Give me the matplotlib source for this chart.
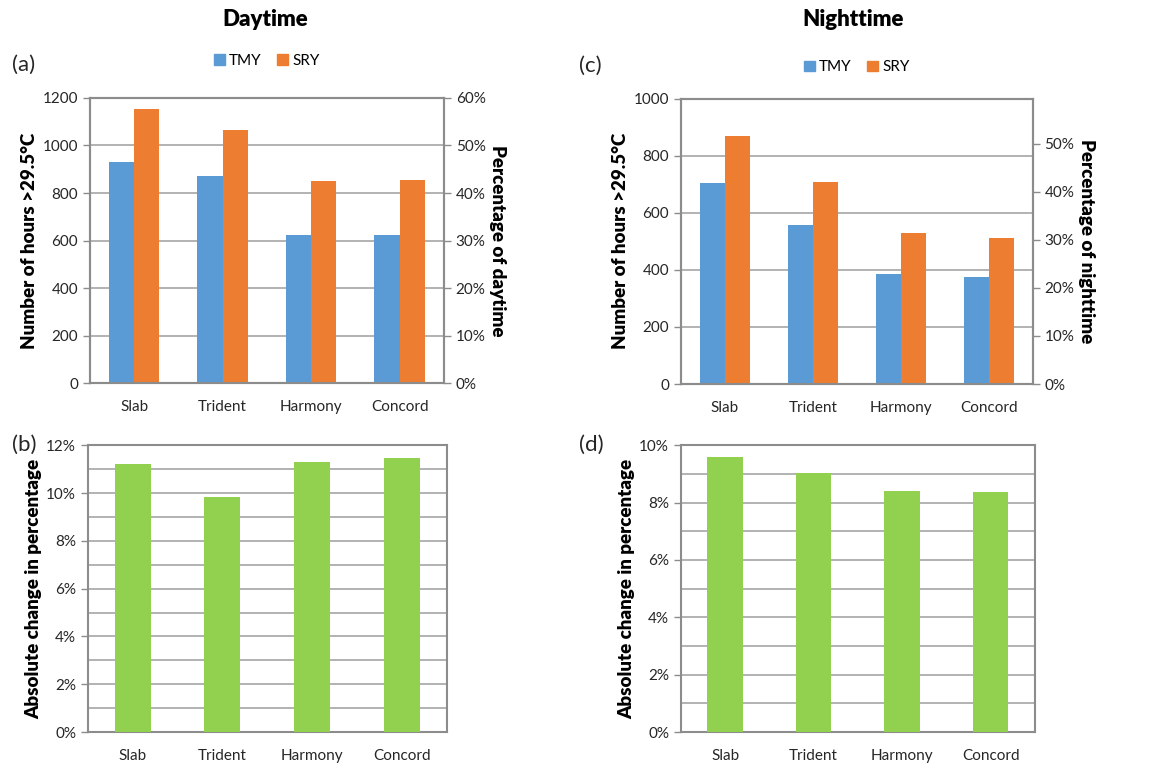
import matplotlib
matplotlib.use('Agg')
import matplotlib.pyplot as plt
from matplotlib.ticker import PercentFormatter, MultipleLocator
from matplotlib.patches import Patch
import numpy as np

plt.rcParams['font.family'] = ['Lato', 'DejaVu Sans']

buildings = ['Slab', 'Trident', 'Harmony', 'Concord']

day_tmy = [931, 870, 625, 625]
day_sry = [1155, 1064, 851, 854]
night_tmy = [706, 558, 386, 374]
night_sry = [869, 709, 529, 513]

day_change = [11.23, 9.83, 11.29, 11.47]
night_change = [9.60, 9.02, 8.41, 8.37]

BLUE = '#5B9BD5'
ORANGE = '#ED7D31'
GREEN = '#92D050'
GRID = '#A6A6A6'
FRAME = '#8C8C8C'
TXT = '#262626'


def style_frame(ax):
    for s in ax.spines.values():
        s.set_color(FRAME)
        s.set_linewidth(1.5)
    ax.tick_params(axis='x', length=0, labelsize=11, pad=12, colors=TXT)
    ax.tick_params(axis='y', length=5, color=FRAME, labelsize=11, colors=TXT, width=1)


def top_chart(rect, tmy, sry, ymax, rmax, rticks, ylabel, rlabel, leg_y):
    ax = fig.add_axes(rect)
    x = np.arange(len(buildings))
    w = 0.285
    ax.bar(x - w / 2, tmy, w, color=BLUE, zorder=3)
    ax.bar(x + w / 2, sry, w, color=ORANGE, zorder=3)
    ax.set_xlim(-0.5, len(buildings) - 0.5)
    ax.set_ylim(0, ymax)
    ax.yaxis.set_major_locator(MultipleLocator(200))
    ax.set_xticks(x)
    ax.set_xticklabels(buildings)
    ax.grid(axis='y', color=GRID, linewidth=1.2, zorder=0)
    style_frame(ax)
    ax.set_ylabel(ylabel, fontsize=13.5, fontweight='heavy', labelpad=3)
    ax2 = ax.twinx()
    ax2.set_ylim(0, rmax)
    ax2.set_yticks(rticks)
    ax2.yaxis.set_major_formatter(PercentFormatter(1.0, decimals=0))
    style_frame(ax2)
    ax2.set_ylabel(rlabel, fontsize=13.5, fontweight='heavy', rotation=270, labelpad=15)
    handles = [Patch(color=BLUE, label='TMY'), Patch(color=ORANGE, label='SRY')]
    ax.legend(handles=handles, loc='center', bbox_to_anchor=(0.5, leg_y), ncol=2,
              frameon=False, fontsize=11, handlelength=0.7, handleheight=0.7,
              handletextpad=0.3, columnspacing=1.0)
    return ax


def bottom_chart(rect, vals, ymax):
    ax = fig.add_axes(rect)
    x = np.arange(len(buildings))
    ax.bar(x, vals, 0.4, color=GREEN, zorder=3)
    ax.set_xlim(-0.5, len(buildings) - 0.5)
    ax.set_ylim(0, ymax)
    ax.yaxis.set_major_locator(MultipleLocator(2))
    ax.yaxis.set_minor_locator(MultipleLocator(1))
    ax.yaxis.set_major_formatter(PercentFormatter(100, decimals=0))
    ax.set_xticks(x)
    ax.set_xticklabels(buildings)
    ax.grid(axis='y', which='both', color=GRID, linewidth=1.2, zorder=0)
    style_frame(ax)
    ax.tick_params(axis='y', which='minor', length=0)
    ax.set_ylabel('Absolute change in percentage', fontsize=13.5, fontweight='heavy', labelpad=3)
    return ax


fig = plt.figure(figsize=(11.68, 7.65), dpi=100)

top_chart([0.077, 0.499, 0.303, 0.373], day_tmy, day_sry, 1200, 0.6,
          [0, 0.1, 0.2, 0.3, 0.4, 0.5, 0.6],
          'Number of hours >29.5°C', 'Percentage of daytime', 1.13)
top_chart([0.583, 0.498, 0.301, 0.373], night_tmy, night_sry, 1000, 0.594,
          [0, 0.1, 0.2, 0.3, 0.4, 0.5],
          'Number of hours >29.5°C', 'Percentage of nighttime', 1.11)
bottom_chart([0.0753, 0.043, 0.307, 0.375], day_change, 12)
bottom_chart([0.583, 0.043, 0.303, 0.375], night_change, 10)

fig.text(0.227, 0.975, 'Daytime', ha='center', va='center', fontsize=16, fontweight='heavy')
fig.text(0.73, 0.975, 'Nighttime', ha='center', va='center', fontsize=16, fontweight='heavy')
for lbl, xx, yy in [('(a)', 0.01, 0.915), ('(b)', 0.01, 0.418), ('(c)', 0.496, 0.914), ('(d)', 0.496, 0.418)]:
    fig.text(xx, yy, lbl, fontsize=16, ha='left', va='center', color=TXT)

fig.savefig('out.png', dpi=100)
